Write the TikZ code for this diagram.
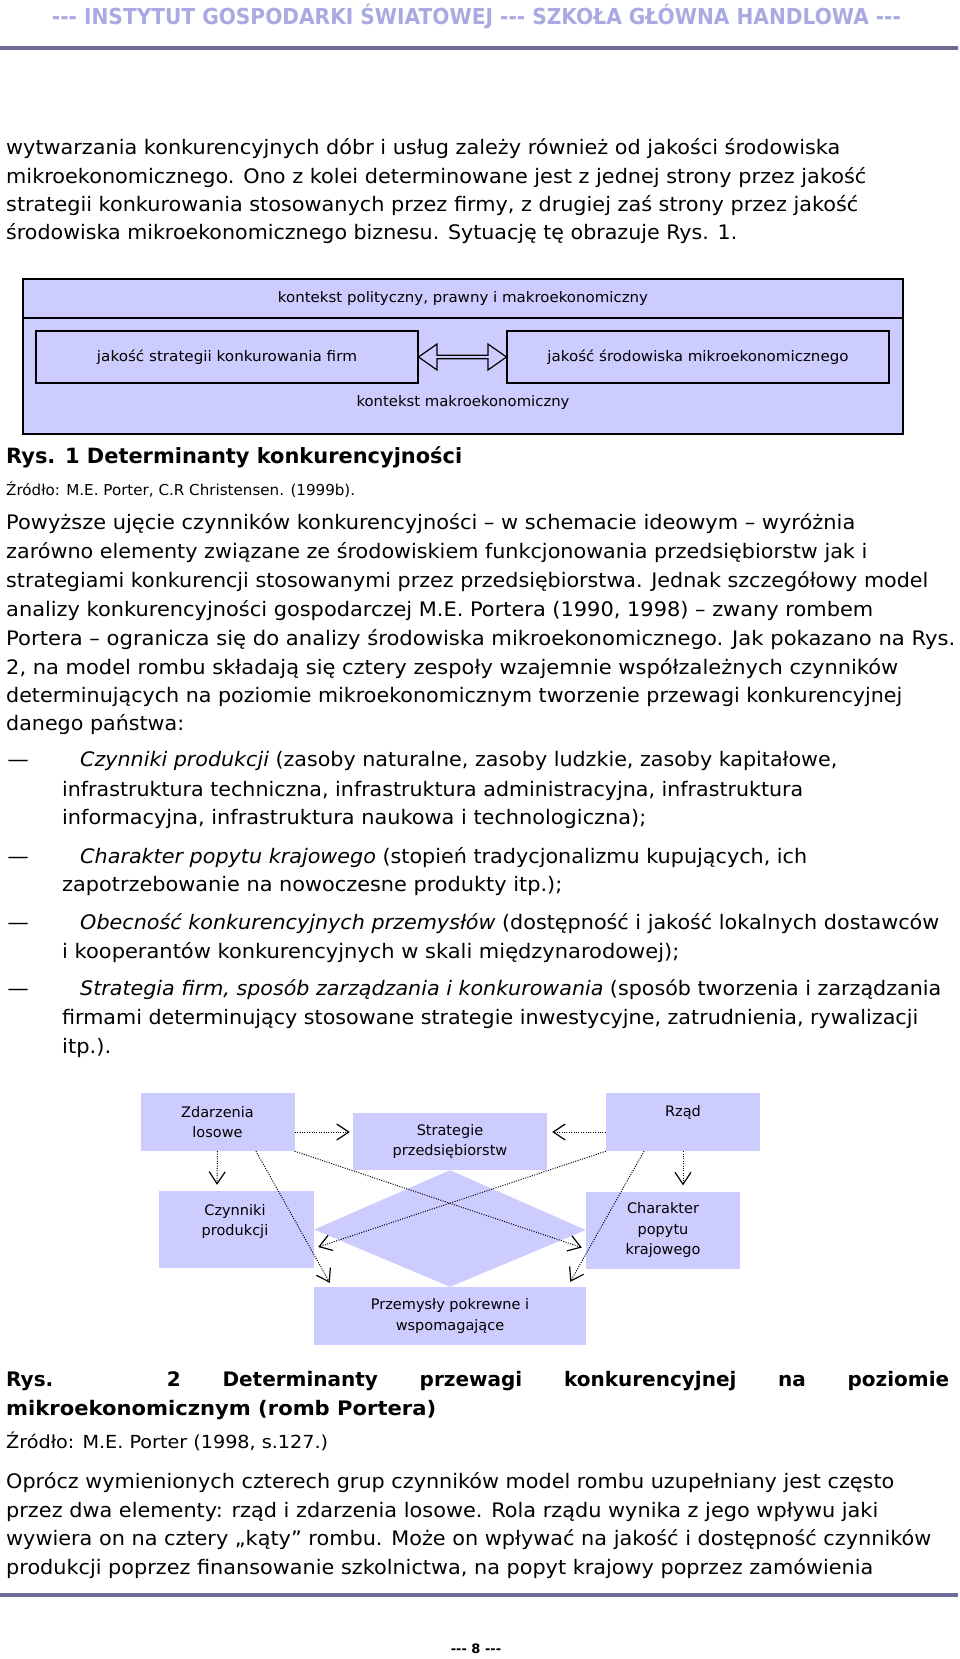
\documentclass[tikz,border=0pt]{standalone}
\usepackage{fontspec}
\usepackage{graphicx}
\setmainfont{DejaVu Sans}
\usetikzlibrary{arrows.meta,shapes.arrows,calc}
\definecolor{lav}{RGB}{204,204,255}
\definecolor{hdrc}{RGB}{170,170,226}
\definecolor{rulec}{RGB}{108,108,150}
\newcommand\fitto[2]{\resizebox{#1pt}{\height}{#2}}
\newcommand\bodyf{\fontsize{20}{24}\selectfont}
\newcommand\threedash{-\kern0pt-\kern0pt-}
\begin{document}
\begin{tikzpicture}[x=1pt,y=-1pt,
  txt/.style={anchor=mid west,inner sep=0pt,font=\bodyf},
  dbox/.style={draw=black,line width=1.3pt,fill=lav,inner sep=0pt},
  rbox/.style={fill=lav,draw=none,inner sep=0pt,align=center,font=\fontsize{14.5}{20.5}\selectfont},
  rtext/.style={inner sep=0pt,align=center,font=\fontsize{14.5}{20.5}\selectfont},
  arr/.style={line width=1pt,dash pattern=on 1pt off 1.4pt,
    -{Straight Barb[length=12pt,width=16pt,line width=1.2pt]}},
  rule/.style={rulec,line width=3.5pt}]
\useasboundingbox (0,0) rectangle (960,1659);
\fill[white] (0,0) rectangle (960,1659);

% header
\node[inner sep=0pt,text=hdrc,font=\fontsize{22}{26}\selectfont\bfseries] (hdr) at (476.5,16)
  {\fitto{849}{\threedash{} INSTYTUT GOSPODARKI ŚWIATOWEJ \threedash{} SZKOŁA GŁÓWNA HANDLOWA \threedash}};
\coordinate (hrl) at (0,48);
\coordinate (hrr) at (958,48);
\draw[rule] (hrl) -- (hrr);

% paragraph 1
\node[txt] (p1a) at (6,152) {\fitto{834}{wytwarzania konkurencyjnych dóbr i usług zależy również od jakości środowiska}};
\node[txt] (p1b) at (6,181) {\fitto{860}{mikroekonomicznego. Ono z kolei determinowane jest z jednej strony przez jakość}};
\node[txt] (p1c) at (6,208.5) {\fitto{852}{strategii konkurowania stosowanych przez firmy, z drugiej zaś strony przez jakość}};
\node[txt] (p1d) at (6,236.5) {\fitto{731}{środowiska mikroekonomicznego biznesu. Sytuację tę obrazuje Rys. 1.}};

% figure 1
\node[dbox,minimum width=880pt,minimum height=116pt] (mak) at (463,376) {};
\node[dbox,minimum width=880pt,minimum height=39pt,font=\fontsize{14.5}{17}\selectfont] (pol) at (463,298.5)
  {\fitto{370}{kontekst polityczny, prawny i makroekonomiczny}};
\node[dbox,minimum width=382pt,minimum height=52pt,font=\fontsize{14.5}{17}\selectfont] (jl) at (227,357)
  {\fitto{260}{jakość strategii konkurowania firm}};
\node[dbox,minimum width=382pt,minimum height=52pt,font=\fontsize{14.5}{17}\selectfont] (jr) at (698,357)
  {\fitto{301}{jakość środowiska mikroekonomicznego}};
\node[inner sep=0pt,font=\fontsize{14.5}{17}\selectfont] (makt) at (463,402)
  {\fitto{213}{kontekst makroekonomiczny}};
\node[double arrow,draw=black,fill=lav,line width=1.2pt,minimum height=88pt,minimum width=26pt,
  double arrow head extend=4pt,double arrow tip angle=70,inner sep=0pt] (dar)
  at ($(jl.east)!0.5!(jr.west)$) {};

\node[txt,font=\fontsize{21}{25}\selectfont\bfseries] (rys1) at (6,461)
  {\fitto{456}{Rys. 1 Determinanty konkurencyjności}};
\node[txt,font=\fontsize{15}{18}\selectfont] (zr1) at (6,493)
  {\fitto{349}{Źródło: M.E. Porter, C.R Christensen. (1999b).}};

% paragraph 2
\node[txt] (p2a) at (6,527) {\fitto{849}{Powyższe ujęcie czynników konkurencyjności – w schemacie ideowym – wyróżnia}};
\node[txt] (p2b) at (6,556) {\fitto{861}{zarówno elementy związane ze środowiskiem funkcjonowania przedsiębiorstw jak i}};
\node[txt] (p2c) at (6,585) {\fitto{922}{strategiami konkurencji stosowanymi przez przedsiębiorstwa. Jednak szczegółowy model}};
\node[txt] (p2d) at (6,614) {\fitto{867}{analizy konkurencyjności gospodarczej M.E. Portera (1990, 1998) – zwany rombem}};
\node[txt] (p2e) at (6,643) {\fitto{949}{Portera – ogranicza się do analizy środowiska mikroekonomicznego. Jak pokazano na Rys.}};
\node[txt] (p2f) at (6,672) {\fitto{892}{2, na model rombu składają się cztery zespoły wzajemnie współzależnych czynników}};
\node[txt] (p2g) at (6,700) {\fitto{896}{determinujących na poziomie mikroekonomicznym tworzenie przewagi konkurencyjnej}};
\node[txt] (p2h) at (6,728) {\fitto{178}{danego państwa:}};

% bullets
\node[txt] (d1) at (6,764) {\fitto{24}{–}};
\node[txt] (b1a) at (80,764) {\fitto{757}{\textit{Czynniki produkcji} (zasoby naturalne, zasoby ludzkie, zasoby kapitałowe,}};
\node[txt] (b1b) at (62,794) {\fitto{741}{infrastruktura techniczna, infrastruktura administracyjna, infrastruktura}};
\node[txt] (b1c) at (62,822) {\fitto{584}{informacyjna, infrastruktura naukowa i technologiczna);}};
\node[txt] (d2) at (6,860.5) {\fitto{24}{–}};
\node[txt] (b2a) at (80,860.5) {\fitto{727}{\textit{Charakter popytu krajowego} (stopień tradycjonalizmu kupujących, ich}};
\node[txt] (b2b) at (62,889) {\fitto{500}{zapotrzebowanie na nowoczesne produkty itp.);}};
\node[txt] (d3) at (6,927) {\fitto{24}{–}};
\node[txt] (b3a) at (80,927) {\fitto{859}{\textit{Obecność konkurencyjnych przemysłów} (dostępność i jakość lokalnych dostawców}};
\node[txt] (b3b) at (62,956) {\fitto{617}{i kooperantów konkurencyjnych w skali międzynarodowej);}};
\node[txt] (d4) at (6,993) {\fitto{24}{–}};
\node[txt] (b4a) at (80,993) {\fitto{861}{\textit{Strategia firm, sposób zarządzania i konkurowania} (sposób tworzenia i zarządzania}};
\node[txt] (b4b) at (62,1022) {\fitto{856}{firmami determinujący stosowane strategie inwestycyjne, zatrudnienia, rywalizacji}};
\node[txt] (b4c) at (62,1051) {\fitto{49}{itp.).}};

% figure 2
\node[rbox,minimum width=154pt,minimum height=58pt] (zl) at (217.5,1122) {Zdarzenia\\losowe};
\node[rbox,minimum width=194pt,minimum height=57pt] (sp) at (450,1141.5) {Strategie\\przedsiębiorstw};
\node[rbox,minimum width=154pt,minimum height=58pt] (rz) at (683,1122) {};
\node[rtext] (rzt) at (683,1112) {Rząd};
\node[rbox,minimum width=155pt,minimum height=77pt] (cp) at (236.5,1229.5) {};
\node[rtext] (cpt) at (235,1221.5) {Czynniki\\produkcji};
\node[rbox,minimum width=154pt,minimum height=77pt] (ch) at (663,1230) {Charakter\\popytu\\krajowego};
\node[rbox,minimum width=272pt,minimum height=58pt] (pk) at (450,1316) {Przemysły pokrewne i\\wspomagające};
\fill[lav] (sp.south) -- (ch.west) -- (pk.north) -- (cp.east) -- cycle;

\draw[arr] ($(zl.east)+(0,10)$) -- ($(sp.west)+(-3,-9.5)$);
\draw[arr] (zl.south) -- ($(cp.north)+(-19.5,-6)$);
\draw[arr] ($(zl.south)+(38.5,0)$) -- ($(pk.north west)+(16,-4)$);
\draw[arr] (zl.south east) -- ($(ch.west)+(-4,17.5)$);
\draw[arr] ($(rz.west)+(0,10)$) -- ($(sp.east)+(5,-9.5)$);
\draw[arr] (rz.south) -- ($(ch.north)+(20,-6)$);
\draw[arr] ($(rz.south)+(-39,0)$) -- ($(pk.north east)+(-16,-5)$);
\draw[arr] (rz.south west) -- ($(cp.east)+(4,17.5)$);

% caption 2
\node[txt,font=\fontsize{20}{24}\selectfont\bfseries] (rys2a) at (6,1384)
  {\makebox[943pt][s]{Rys. 2 Determinanty przewagi konkurencyjnej na poziomie}};
\node[txt,font=\fontsize{20}{24}\selectfont\bfseries] (rys2b) at (6,1413)
  {\fitto{430}{mikroekonomicznym (romb Portera)}};
\node[txt,font=\fontsize{18}{21}\selectfont] (zr2) at (6,1446)
  {\fitto{322}{Źródło: M.E. Porter (1998, s.127.)}};

% paragraph 3
\node[txt] (p3a) at (6,1486) {\fitto{888}{Oprócz wymienionych czterech grup czynników model rombu uzupełniany jest często}};
\node[txt] (p3b) at (6,1515) {\fitto{872}{przez dwa elementy: rząd i zdarzenia losowe. Rola rządu wynika z jego wpływu jaki}};
\node[txt] (p3c) at (6,1543) {\fitto{925}{wywiera on na cztery „kąty” rombu. Może on wpływać na jakość i dostępność czynników}};
\node[txt] (p3d) at (6,1572) {\fitto{867}{produkcji poprzez finansowanie szkolnictwa, na popyt krajowy poprzez zamówienia}};

% footer
\coordinate (frl) at (0,1595);
\coordinate (frr) at (958,1595);
\draw[rule] (frl) -- (frr);
\node[inner sep=0pt,font=\fontsize{13}{15}\selectfont\bfseries] (pg) at (476,1649) {\threedash{} 8 \threedash};
\end{tikzpicture}
\end{document}
